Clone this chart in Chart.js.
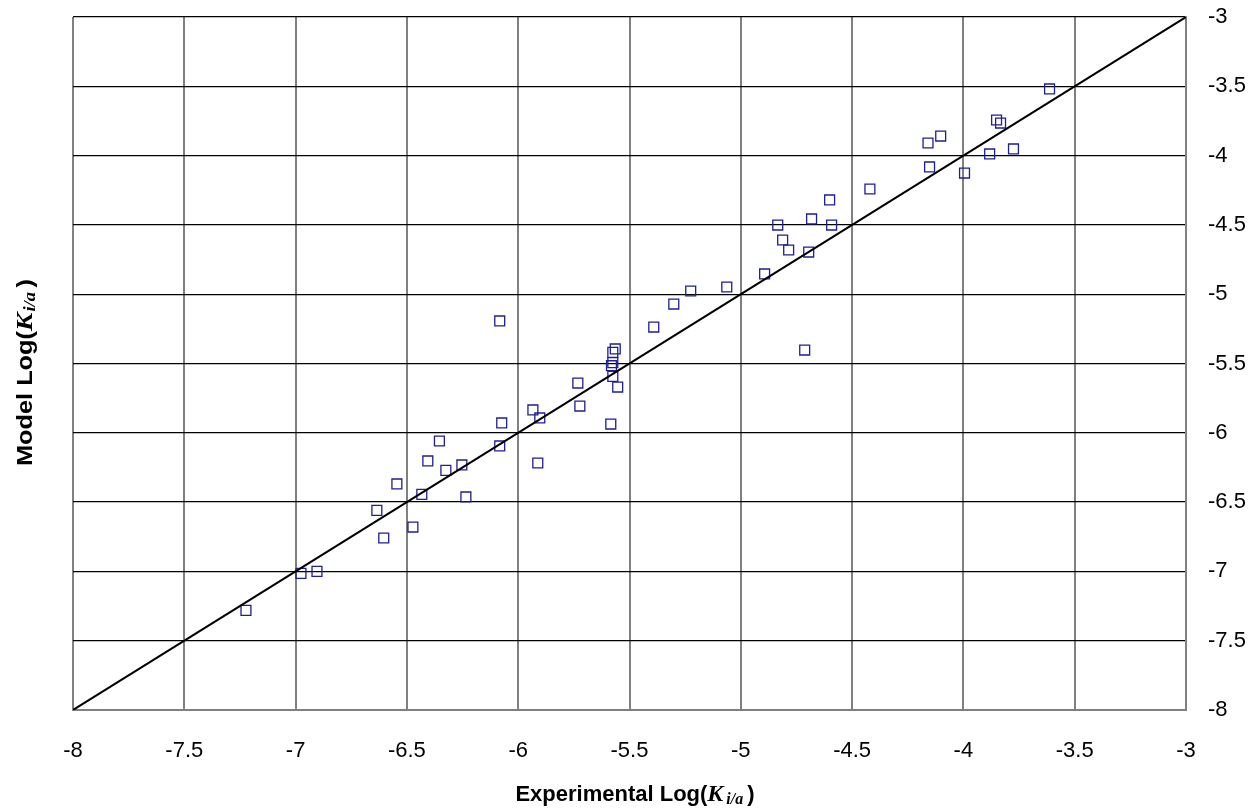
<!DOCTYPE html>
<html>
<head>
<meta charset="utf-8">
<title>Model vs Experimental Log(Ki/a)</title>
<script src="https://cdn.jsdelivr.net/npm/chart.js@4.4.1/dist/chart.umd.min.js"></script>
<style>
    html, body { margin: 0; padding: 0; background: #fff; }
    #wrap { width: 1260px; height: 809px; }
</style>
</head>
<body>
<div id="wrap"><canvas id="chart" width="1260" height="809"></canvas></div>
<script>
var expLog = [
    -7.223, -6.976, -6.904, -6.604, -6.635, -6.545, -6.473, -6.433, -6.235, -6.406,
    -6.354, -6.325, -6.253, -6.083, -5.391, -5.732, -5.723, -5.934, -5.903, -6.074,
    -6.083, -5.584, -5.912, -5.564, -5.575, -5.581, -5.575, -5.575, -5.553, -4.420,
    -4.601, -4.682, -4.592, -4.834, -4.812, -4.785, -4.695, -4.893, -5.063, -5.225,
    -5.301, -4.713, -3.613, -3.851, -3.833, -4.102, -4.159, -3.775, -3.882, -4.152,
    -3.995
];
var modelLog = [
    -7.281, -7.014, -7.000, -6.759, -6.560, -6.369, -6.680, -6.444, -6.463, -6.203,
    -6.059, -6.271, -6.232, -5.193, -5.237, -5.641, -5.807, -5.835, -5.893, -5.929,
    -6.095, -5.937, -6.218, -5.395, -5.420, -5.516, -5.494, -5.593, -5.670, -4.241,
    -4.320, -4.457, -4.501, -4.501, -4.609, -4.681, -4.696, -4.854, -4.948, -4.977,
    -5.071, -5.403, -3.519, -3.743, -3.765, -3.859, -3.909, -3.952, -3.988, -4.082,
    -4.126
];
// y = x reference line
var parityX = [-8, -3];
var parityY = [-8, -3];
var tickValues = [-8, -7.5, -7, -6.5, -6, -5.5, -5, -4.5, -4, -3.5, -3];

function toPoints(xs, ys) {
    return xs.map(function (x, i) { return { x: x, y: ys[i] }; });
}

function useTickValues(axis) {
    axis.ticks = tickValues.map(function (v) { return { value: v }; });
}

// draws a run of text pieces with different fonts, centred on 0
function drawRuns(ctx, runs) {
    var total = 0;
    runs.forEach(function (r) {
        ctx.font = r.font;
        r.w = ctx.measureText(r.text).width;
        total += r.w + (r.gap || 0);
    });
    var x = -total / 2;
    runs.forEach(function (r) {
        ctx.font = r.font;
        ctx.fillText(r.text, x, r.dy || 0);
        x += r.w + (r.gap || 0);
    });
}

function titleRuns(label, gapK, gapSub) {
    return [
        { text: label + ' Log(', font: 'bold 22px "Liberation Sans", Arial, sans-serif' },
        { text: 'K', font: 'italic bold 24px "Liberation Serif", "Times New Roman", serif', gap: gapK },
        { text: 'i/a', font: 'italic bold 16px "Liberation Serif", "Times New Roman", serif', dy: 3, gap: gapSub },
        { text: ')', font: 'bold 22px "Liberation Sans", Arial, sans-serif' }
    ];
}

var axisTitles = {
    id: 'axisTitles',
    afterDraw: function (chart) {
        var ctx = chart.ctx;
        ctx.save();
        ctx.fillStyle = '#000';
        ctx.textAlign = 'left';
        ctx.textBaseline = 'alphabetic';

        ctx.save();
        ctx.translate(635, 801);
        drawRuns(ctx, titleRuns('Experimental', 3, 4));
        ctx.restore();

        // rotated title comes out a bit stretched along its length
        ctx.save();
        ctx.translate(31.5, 372.5);
        ctx.rotate(-Math.PI / 2);
        ctx.scale(1.15, 1);
        drawRuns(ctx, titleRuns('Model', 1, 4));
        ctx.restore();

        ctx.restore();
    }
};

var tickFont = { family: '"Liberation Sans", Arial, sans-serif', size: 22 };

new Chart(document.getElementById('chart'), {
    type: 'scatter',
    data: {
        datasets: [{
            type: 'line',
            data: toPoints(parityX, parityY),
            borderColor: '#000',
            borderWidth: 2,
            pointRadius: 0,
            fill: false,
            order: 0
        }, {
            data: toPoints(expLog, modelLog),
            pointStyle: 'rect',
            pointRadius: 7,
            pointBorderWidth: 1.3,
            pointBorderColor: 'rgb(30, 30, 150)',
            pointBackgroundColor: 'rgba(0, 0, 0, 0)',
            order: 1
        }]
    },
    options: {
        responsive: false,
        animation: false,
        devicePixelRatio: 1,
        layout: { padding: { left: 73, top: 17, right: 0, bottom: 0 } },
        plugins: {
            legend: { display: false },
            tooltip: { enabled: false }
        },
        scales: {
            x: {
                type: 'linear',
                min: -8,
                max: -3,
                afterBuildTicks: useTickValues,
                afterFit: function (scale) { scale.height = 99; },
                grid: { color: '#808080', lineWidth: 2, drawTicks: false },
                border: { color: '#808080', width: 2 },
                ticks: {
                    font: tickFont,
                    color: '#000',
                    padding: 28,
                    maxRotation: 0,
                    callback: function (v) { return String(v); }
                }
            },
            y: {
                type: 'linear',
                position: 'right',
                min: -8,
                max: -3,
                afterBuildTicks: useTickValues,
                afterFit: function (scale) {
                    scale.width = 74;
                    // labels overhang into the top padding, keep plot edges fixed
                    scale.paddingTop = 0;
                    scale.paddingBottom = 0;
                },
                grid: { color: '#000', lineWidth: 1.3, drawTicks: false },
                border: { color: '#808080', width: 2 },
                ticks: {
                    font: tickFont,
                    color: '#000',
                    padding: 22,
                    callback: function (v) { return String(v); }
                }
            }
        }
    },
    plugins: [axisTitles]
});
</script>
</body>
</html>
